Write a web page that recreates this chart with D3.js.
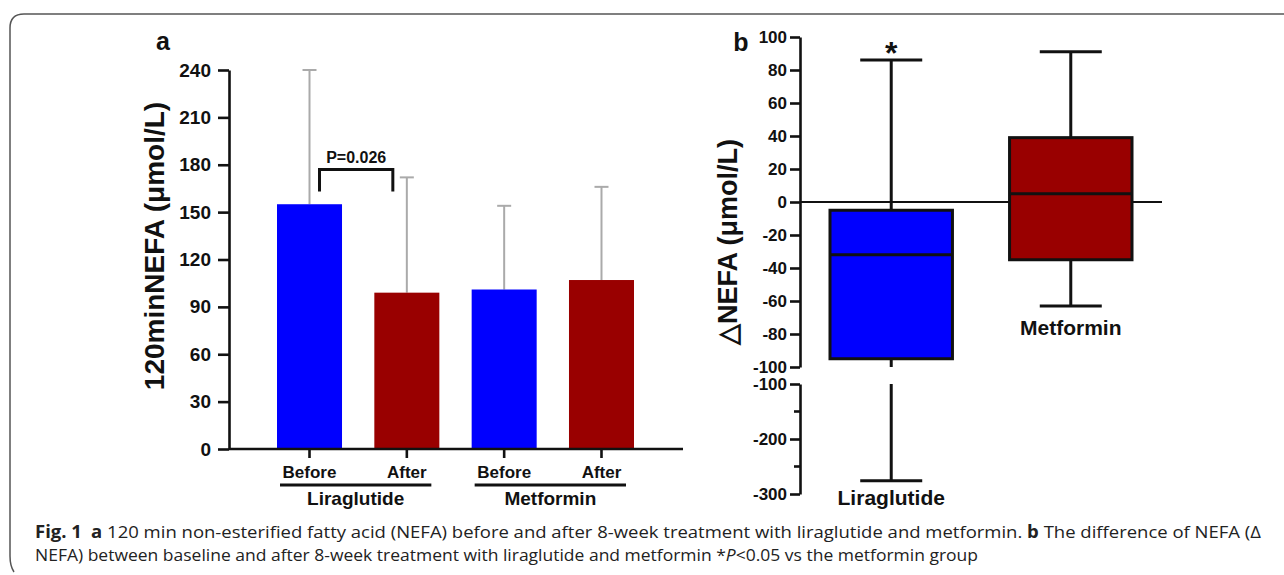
<!DOCTYPE html>
<html lang="en">
<head>
<meta charset="UTF-8">
<title>NEFA figure</title>
<script src="https://cdn.jsdelivr.net/npm/d3@7"></script>
<style>
body { margin: 0; background: #fff; }
svg { display: block; }
.axis path, .axis line { stroke: #111; stroke-width: 2.6px; fill: none; }
.axis text { font-family: "Liberation Sans", Arial, sans-serif; font-weight: bold; fill: #111; }
.lbl { font-family: "Liberation Sans", Arial, sans-serif; font-weight: bold; fill: #111; }
.cap { font-family: "Open Sans", "Noto Sans", sans-serif; font-size: 17px; fill: #222; }
</style>
</head>
<body>
<script>
// panel a data: mean and SD
var phases = ["Before", "After", "Before", "After"];
var drugs = ["Liraglutide", "Metformin"];
var means = [155, 99, 101, 107];
var sds = [85, 73, 53, 59];
var barColors = ["#0000ff", "#990000", "#0000ff", "#990000"];
var yTicksA = [0, 30, 60, 90, 120, 150, 180, 210, 240];

// panel b data: box plots
var boxMin = [-276, -63];
var boxQ1 = [-95, -35];
var boxMed = [-32, 5];
var boxQ3 = [-5, 39];
var boxMax = [86, 91];
var boxColors = ["#0000ff", "#990000"];
var yTicksUpper = [-100, -80, -60, -40, -20, 0, 20, 40, 60, 80, 100];
var yTicksLower = [-300, -200, -100];

var width = 1284, height = 575;
var svg = d3.select('body').append('svg')
    .attr('width', width).attr('height', height);

var plain = function(d) { return String(d); };   // hyphen minus like the original

// frame
svg.append('path')
   .attr('d', 'M1290,14 L24,14 Q10,14 10,28 L10,556 Q10,566 14,572')
   .attr('fill', 'none').attr('stroke', '#555').attr('stroke-width', 1.5);

// ---------- panel a ----------
var yA = d3.scaleLinear().domain([0, 240]).range([449, 70]);
var xA = d3.scaleBand().domain(d3.range(means.length))
    .range([277, 634]).paddingInner(0.332).paddingOuter(0);

// error bars (behind bars)
var err = svg.append('g');
means.forEach(function(m, i) {
    var cx = xA(i) + xA.bandwidth() / 2;
    err.append('line').attr('x1', cx).attr('x2', cx)
       .attr('y1', yA(m)).attr('y2', yA(m + sds[i]))
       .attr('stroke', '#aaa').attr('stroke-width', 2);
    err.append('line').attr('x1', cx - 7).attr('x2', cx + 7)
       .attr('y1', yA(m + sds[i])).attr('y2', yA(m + sds[i]))
       .attr('stroke', '#aaa').attr('stroke-width', 2);
});

svg.selectAll('.bar').data(means).enter().append('rect')
   .attr('class', 'bar')
   .attr('x', function(d, i) { return xA(i); })
   .attr('y', function(d) { return yA(d); })
   .attr('width', xA.bandwidth())
   .attr('height', function(d) { return yA(0) - yA(d); })
   .attr('fill', function(d, i) { return barColors[i]; });

svg.append('g').attr('class', 'axis')
   .attr('transform', 'translate(229,0)')
   .call(d3.axisLeft(yA).tickValues(yTicksA).tickSize(11).tickSizeOuter(0).tickPadding(7))
   .selectAll('text').style('font-size', '19px');

// x axis baseline spans wider than the bars
svg.append('line').attr('x1', 229).attr('x2', 683)
   .attr('y1', yA(0)).attr('y2', yA(0))
   .attr('stroke', '#111').attr('stroke-width', 2.6);
var xAxisA = svg.append('g').attr('class', 'axis')
   .attr('transform', 'translate(0,' + yA(0) + ')')
   .call(d3.axisBottom(xA).tickSize(9).tickSizeOuter(0).tickPadding(8)
        .tickFormat(function(i) { return phases[i]; }));
xAxisA.select('.domain').remove();
xAxisA.selectAll('text').style('font-size', '17px');

// group underline + names
drugs.forEach(function(name, g) {
    var x0 = xA(g * 2) + 3, x1 = xA(g * 2 + 1) + xA.bandwidth() - 8;
    svg.append('line').attr('x1', x0).attr('x2', x1)
       .attr('y1', 485).attr('y2', 485)
       .attr('stroke', '#111').attr('stroke-width', 3);
    svg.append('text').attr('class', 'lbl')
       .attr('x', (x0 + x1) / 2).attr('y', 505)
       .attr('text-anchor', 'middle').style('font-size', '19px')
       .text(name);
});

// significance bracket
var bx0 = xA(0) + xA.bandwidth() / 2 + 10, bx1 = xA(1) + xA.bandwidth() / 2 - 14;
svg.append('path')
   .attr('d', 'M' + bx0 + ',' + yA(163) + 'V' + yA(177) + 'H' + bx1 + 'V' + yA(163))
   .attr('fill', 'none').attr('stroke', '#111').attr('stroke-width', 3);
svg.append('text').attr('class', 'lbl')
   .attr('x', (bx0 + bx1) / 2).attr('y', yA(177) - 6)
   .attr('text-anchor', 'middle').style('font-size', '16px')
   .text('P=0.026');

svg.append('text').attr('class', 'lbl')
   .attr('transform', 'translate(164,246) rotate(-90)')
   .attr('text-anchor', 'middle').style('font-size', '28px')
   .text('120minNEFA (\u03bcmol/L)');

svg.append('text').attr('class', 'lbl')
   .attr('x', 163).attr('y', 50).attr('text-anchor', 'middle')
   .style('font-size', '25px').text('a');

// ---------- panel b ----------
var yU = d3.scaleLinear().domain([-100, 100]).range([367, 37]);
var yL = d3.scaleLinear().domain([-300, -100]).range([494, 384]);
var xB = d3.scaleBand().domain(drugs).range([830, 1132]).paddingInner(0.318).paddingOuter(0);

function yPos(v) { return v >= -100 ? yU(v) : yL(v); }

svg.append('g').attr('class', 'axis')
   .attr('transform', 'translate(800,0)')
   .call(d3.axisLeft(yU).tickValues(yTicksUpper).tickSize(10).tickSizeOuter(0).tickPadding(3).tickFormat(plain))
   .selectAll('text').style('font-size', '17px');
var lowAx = svg.append('g').attr('class', 'axis')
   .attr('transform', 'translate(800,0)')
   .call(d3.axisLeft(yL).tickValues(yTicksLower).tickSize(10).tickSizeOuter(0).tickPadding(3).tickFormat(plain));
lowAx.selectAll('text').style('font-size', '17px');
[-250, -150].forEach(function(v) {
    svg.append('line').attr('x1', 794).attr('x2', 800)
       .attr('y1', yL(v)).attr('y2', yL(v))
       .attr('stroke', '#111').attr('stroke-width', 2.6);
});

// zero line
svg.append('line').attr('x1', 800).attr('x2', 1162)
   .attr('y1', yU(0)).attr('y2', yU(0))
   .attr('stroke', '#111').attr('stroke-width', 2);

drugs.forEach(function(name, i) {
    var x0 = xB(name), bw = xB.bandwidth(), cx = x0 + bw / 2;
    var g = svg.append('g').attr('stroke', '#111').attr('stroke-width', 3);
    // upper whisker
    g.append('line').attr('x1', cx).attr('x2', cx)
     .attr('y1', yU(boxQ3[i])).attr('y2', yU(boxMax[i]));
    g.append('line').attr('x1', cx - 31).attr('x2', cx + 31)
     .attr('y1', yU(boxMax[i])).attr('y2', yU(boxMax[i]));
    // lower whisker, split across the axis break
    var lowTop = Math.max(boxMin[i], -100);
    g.append('line').attr('x1', cx).attr('x2', cx)
     .attr('y1', yU(boxQ1[i])).attr('y2', yU(lowTop));
    if (boxMin[i] < -100) {
        g.append('line').attr('x1', cx).attr('x2', cx)
         .attr('y1', yL(-100)).attr('y2', yL(boxMin[i]));
    }
    g.append('line').attr('x1', cx - 31).attr('x2', cx + 31)
     .attr('y1', yPos(boxMin[i])).attr('y2', yPos(boxMin[i]));
    // box
    g.append('rect').attr('x', x0).attr('width', bw)
     .attr('y', yU(boxQ3[i])).attr('height', yU(boxQ1[i]) - yU(boxQ3[i]))
     .attr('fill', boxColors[i]);
    g.append('line').attr('x1', x0).attr('x2', x0 + bw)
     .attr('y1', yU(boxMed[i])).attr('y2', yU(boxMed[i]));
});

// group labels
svg.append('text').attr('class', 'lbl')
   .attr('x', xB('Liraglutide') + xB.bandwidth() / 2).attr('y', 505)
   .attr('text-anchor', 'middle').style('font-size', '21px').text('Liraglutide');
svg.append('text').attr('class', 'lbl')
   .attr('x', xB('Metformin') + xB.bandwidth() / 2).attr('y', yPos(boxMin[1]) + 29)
   .attr('text-anchor', 'middle').style('font-size', '21px').text('Metformin');
svg.append('text').attr('class', 'lbl')
   .attr('x', xB('Liraglutide') + xB.bandwidth() / 2).attr('y', 64)
   .attr('text-anchor', 'middle').style('font-size', '32px').text('*');

svg.append('text').attr('class', 'lbl')
   .attr('transform', 'translate(737,242) rotate(-90)')
   .attr('text-anchor', 'middle').style('font-size', '27px')
   .text('\u25b3NEFA (\u03bcmol/L)');

svg.append('text').attr('class', 'lbl')
   .attr('x', 741).attr('y', 51).attr('text-anchor', 'middle')
   .style('font-size', '25px').text('b');

// ---------- caption ----------
var c1 = svg.append('text').attr('class', 'cap')
   .attr('x', 35).attr('y', 538)
   .attr('textLength', 1226).attr('lengthAdjust', 'spacingAndGlyphs');
c1.append('tspan').style('font-weight', 'bold').text('Fig. 1');
c1.append('tspan').text('\u2002');
c1.append('tspan').style('font-weight', 'bold').text('a');
c1.append('tspan').text(' 120 min non-esterified fatty acid (NEFA) before and after 8-week treatment with liraglutide and metformin. ');
c1.append('tspan').style('font-weight', 'bold').text('b');
c1.append('tspan').text(' The difference of NEFA (\u0394');

var c2 = svg.append('text').attr('class', 'cap')
   .attr('x', 35).attr('y', 561)
   .attr('textLength', 943).attr('lengthAdjust', 'spacingAndGlyphs');
c2.append('tspan').text('NEFA) between baseline and after 8-week treatment with liraglutide and metformin *');
c2.append('tspan').style('font-style', 'italic').text('P');
c2.append('tspan').text('<0.05 vs the metformin group');
</script>
</body>
</html>
